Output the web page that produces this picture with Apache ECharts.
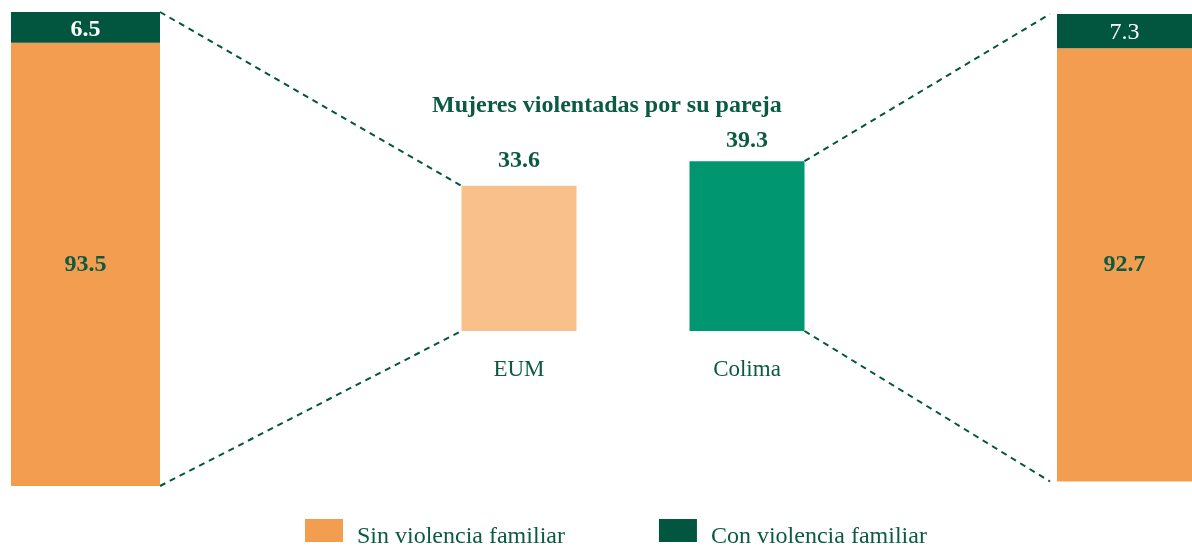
<!DOCTYPE html>
<html>
<head>
<meta charset="utf-8">
<script src="https://cdn.jsdelivr.net/npm/echarts@6/dist/echarts.min.js"></script>
<style>
  html, body { margin: 0; padding: 0; background: #fff; }
  #chartsBox { width: 1192px; height: 547px; }
</style>
</head>
<body>
<div id="chartsBox"></div>
<script>
// datos
const seriesNames = ['Sin violencia familiar', 'Con violencia familiar']
const eumSplit = [93.5, 6.5]       // EUM: sin / con violencia familiar
const colimaSplit = [92.7, 7.3]    // Colima: sin / con violencia familiar
const midCategories = ['EUM', 'Colima']
const midValues = [33.6, 39.3]     // mujeres violentadas por su pareja
const midTitle = 'Mujeres violentadas por su pareja'

const darkGreen = '#02563F'
const orange = '#F39D50'
const lightOrange = '#F9C08C'
const green = '#009670'
const textGreen = '#0B5A43'
const serif = '"Liberation Serif", "Times New Roman", serif'

const sideW = 149
const midW = 115

const chart = echarts.init(document.getElementById('chartsBox'))

const hiddenCat = (gi) => ({ type: 'category', gridIndex: gi, data: [''], show: false })
const hiddenVal = (gi, max) => ({ type: 'value', gridIndex: gi, min: 0, max: max, show: false })

const stackPair = (gi, vals, topBold) => [
  {
    name: seriesNames[0], type: 'bar', stack: 's' + gi, xAxisIndex: gi, yAxisIndex: gi,
    barWidth: sideW, data: [vals[0]], itemStyle: { color: orange },
    label: { show: true, position: 'inside', color: textGreen, fontFamily: serif, fontWeight: 'bold', fontSize: 24 },
    silent: true
  },
  {
    name: seriesNames[1], type: 'bar', stack: 's' + gi, xAxisIndex: gi, yAxisIndex: gi,
    barWidth: sideW, data: [vals[1]], itemStyle: { color: darkGreen },
    label: { show: true, position: 'inside', offset: [0, 2], color: '#fff', fontFamily: serif, fontWeight: topBold ? 'bold' : 'normal', fontSize: 24 },
    silent: true
  }
]

const option = {
  animation: false,
  title: {
    text: midTitle, left: 427, top: 89,
    textStyle: { color: textGreen, fontFamily: serif, fontWeight: 'bold', fontSize: 24 }
  },
  legend: {
    data: seriesNames, left: 305, top: 519, padding: 0, icon: 'rect',
    itemWidth: 38, itemHeight: 23, itemGap: 94,
    formatter: '{t|{name}}',
    textStyle: {
      color: textGreen, fontFamily: serif, fontSize: 24,
      rich: { t: { color: textGreen, fontFamily: serif, fontSize: 24, padding: [13, 0, 0, 9] } }
    },
    selectedMode: false
  },
  grid: [
    { left: 11, top: 12, width: sideW, height: 474 },
    { left: 405, top: 115, width: 456, height: 216 },
    { left: 1057, top: 14, width: 148, height: 467.5 }
  ],
  xAxis: [
    hiddenCat(0),
    {
      type: 'category', gridIndex: 1, data: midCategories,
      axisLine: { show: false }, axisTick: { show: false },
      axisLabel: { margin: 27, color: textGreen, fontFamily: serif, fontSize: 23 }
    },
    hiddenCat(2)
  ],
  yAxis: [hiddenVal(0, 100), hiddenVal(1, 50), hiddenVal(2, 100)],
  series: [
    ...stackPair(0, eumSplit, true),
    {
      name: midTitle, type: 'bar', xAxisIndex: 1, yAxisIndex: 1, barWidth: midW,
      data: midValues.map((v, i) => ({
        value: v,
        itemStyle: { color: i === 0 ? lightOrange : green },
        label: { distance: i === 0 ? 13 : 8 }
      })),
      label: { show: true, position: 'top', color: textGreen, fontFamily: serif, fontWeight: 'bold', fontSize: 24 },
      silent: true
    },
    ...stackPair(2, colimaSplit, false)
  ]
}
chart.setOption(option)

// lineas punteadas entre barras, a partir de las escalas
const px = (gi, cat, val) => chart.convertToPixel({ xAxisIndex: gi, yAxisIndex: gi }, [cat, val])
const lTop = px(0, 0, 100), lBot = px(0, 0, 0)
const eTop = px(1, 0, midValues[0]), eBot = px(1, 0, 0)
const cTop = px(1, 1, midValues[1]), cBot = px(1, 1, 0)
const rTop = px(2, 0, 100), rBot = px(2, 0, 0)
const dash = (a, b) => ({
  type: 'line', silent: true,
  shape: { x1: a[0], y1: a[1], x2: b[0], y2: b[1] },
  style: { stroke: darkGreen, lineWidth: 2, lineDash: [6, 5] }
})
chart.setOption({
  graphic: [
    dash([lTop[0] + sideW / 2, lTop[1]], [eTop[0] - midW / 2, eTop[1]]),
    dash([lBot[0] + sideW / 2, lBot[1]], [eBot[0] - midW / 2, eBot[1]]),
    dash([cTop[0] + midW / 2, cTop[1]], [rTop[0] - sideW / 2, rTop[1]]),
    dash([cBot[0] + midW / 2, cBot[1]], [rBot[0] - sideW / 2, rBot[1]])
  ]
})
</script>
</body>
</html>
